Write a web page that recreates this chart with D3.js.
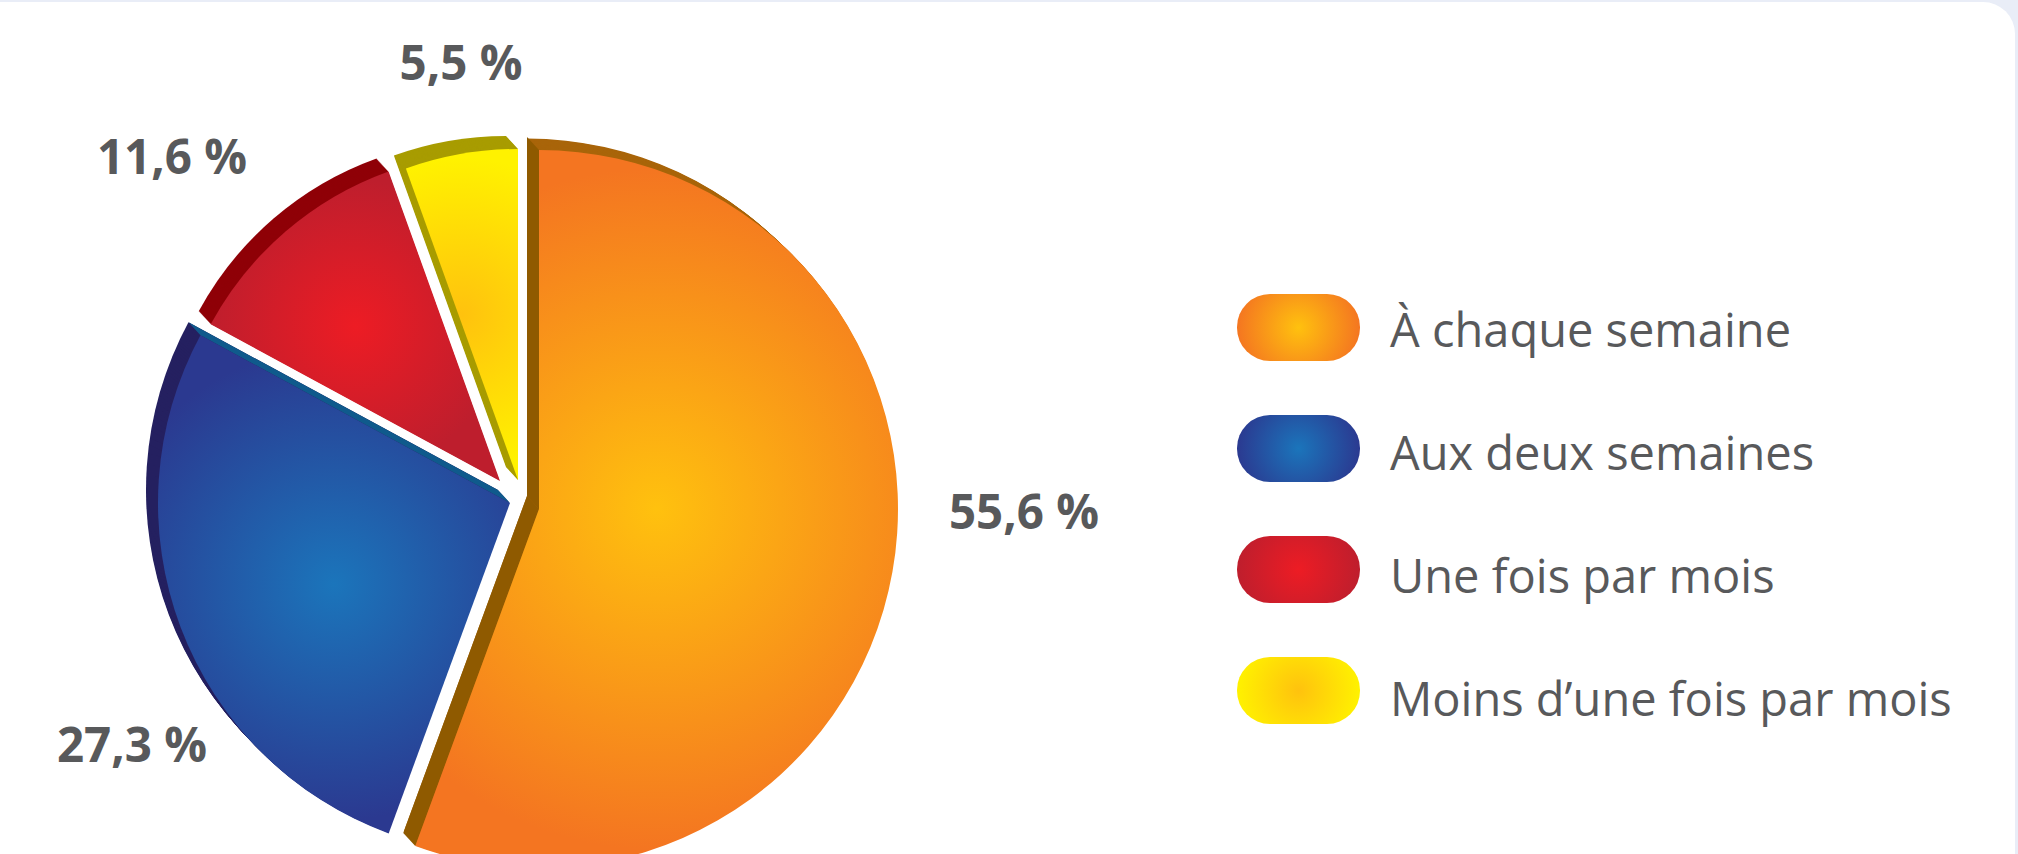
<!DOCTYPE html>
<html>
<head>
<meta charset="utf-8">
<script src="https://cdn.jsdelivr.net/npm/d3@7"></script>
<style>
  html, body { margin: 0; padding: 0; background: #e9edf7; overflow: hidden; }
  svg { display: block; }
  text { fill: #58595b; }
  .value { font-family: "Open Sans", sans-serif; font-weight: 700; font-size: 47.5px; text-anchor: middle; }
  .legend-label { font-family: "Open Sans", sans-serif; font-weight: 400; font-size: 47px; }
</style>
</head>
<body>
<svg id="chart" width="2018" height="854"></svg>
<script>
const categories = ['À chaque semaine', 'Aux deux semaines', 'Une fois par mois', 'Moins d’une fois par mois'];
const values = [55.6, 27.3, 11.6, 5.5];

// look of each slice, same order as categories
const innerColors = ['#ffc10e', '#1b75bb', '#ed1c24', '#ffc20e'];
const outerColors = ['#f47521', '#2b3990', '#be1e2d', '#fff200'];
const arcSideColors = ['#a9650a', '#252060', '#8f0007', '#a89c00'];
const startSideColors = ['#8f5a00', null, null, null];
const endSideColors = ['#8f5a00', '#0f5a8c', null, '#a89c00'];

// slices are pulled apart by hand
const centers = [[539, 509], [510, 503], [500, 481], [518, 480]];
const radii = [359, 352, 329, 331];
const sideInset = [1.5, 0, 0, 0];
const labelPos = [[1024, 529], [132, 762], [172, 174], [461, 80]];

const width = 2018;
const height = 854;
const depth = [-12, -13];
const gradientScale = 0.95;
const legendX = 1237;
const legendY = d3.scalePoint().domain(categories).range([294, 657]);
const legendTextY = d3.scalePoint().domain(categories).range([347, 716]);

const svg = d3.select('#chart');
const defs = svg.append('defs');

// white card, only its top right corner is on screen
svg.append('rect')
  .attr('x', -60)
  .attr('y', 2)
  .attr('width', 2015 + 60)
  .attr('height', height + 60)
  .attr('rx', 32)
  .attr('fill', '#ffffff');

const pie = d3.pie().sort(null)(values);
const arc = d3.arc().innerRadius(0);
const edgeLine = d3.line();

const slices = svg.selectAll('g.slice')
  .data(pie)
  .enter()
  .append('g')
  .attr('class', 'slice')
  .attr('transform', (d, i) => 'translate(' + centers[i] + ')');

function sector(d, r) {
  return arc({ startAngle: d.startAngle, endAngle: d.endAngle, outerRadius: r });
}

function sideFace(angle, r) {
  const p = d3.pointRadial(angle, r);
  return edgeLine([[0, 0], p, [p[0] + depth[0], p[1] + depth[1]], depth]);
}

slices.each(function (d, i) {
  const g = d3.select(this);

  // extrusion: stacked copies going back up-left
  d3.range(13, 0, -1).forEach((step) => {
    g.append('path')
      .attr('d', sector(d, radii[i] - (sideInset[i] * step) / 13))
      .attr('fill', arcSideColors[i])
      .attr('transform', 'translate(' + (depth[0] * step) / 13 + ',' + (depth[1] * step) / 13 + ')');
  });

  if (startSideColors[i]) g.append('path').attr('d', sideFace(d.startAngle, radii[i])).attr('fill', startSideColors[i]);
  if (endSideColors[i]) g.append('path').attr('d', sideFace(d.endAngle, radii[i])).attr('fill', endSideColors[i]);

  const front = g.append('path').attr('d', sector(d, radii[i]));
  const box = front.node().getBBox();

  const grad = defs.append('radialGradient')
    .attr('id', 'slice-grad-' + i)
    .attr('gradientUnits', 'userSpaceOnUse')
    .attr('cx', box.x + box.width / 2)
    .attr('cy', box.y + box.height / 2)
    .attr('r', (Math.max(box.width, box.height) / 2) * gradientScale);
  grad.append('stop').attr('offset', 0).attr('stop-color', innerColors[i]);
  grad.append('stop').attr('offset', 1).attr('stop-color', outerColors[i]);
  front.attr('fill', 'url(#slice-grad-' + i + ')');
});

svg.selectAll('text.value')
  .data(values)
  .enter()
  .append('text')
  .attr('class', 'value')
  .attr('x', (d, i) => labelPos[i][0])
  .attr('y', (d, i) => labelPos[i][1])
  .text((d) => d.toFixed(1).replace('.', ',') + ' %');

// legend
const legendGrad = defs.selectAll('radialGradient.legend')
  .data(categories)
  .enter()
  .append('radialGradient')
  .attr('class', 'legend')
  .attr('id', (d, i) => 'legend-grad-' + i)
  .attr('gradientUnits', 'userSpaceOnUse')
  .attr('cx', 61.5)
  .attr('cy', 33.5)
  .attr('r', 62);
legendGrad.append('stop').attr('offset', 0).attr('stop-color', (d, i) => innerColors[i]);
legendGrad.append('stop').attr('offset', 1).attr('stop-color', (d, i) => outerColors[i]);

const legend = svg.selectAll('g.legend')
  .data(categories)
  .enter()
  .append('g')
  .attr('class', 'legend')
  .attr('transform', (d) => 'translate(' + legendX + ',' + legendY(d) + ')');

legend.append('rect')
  .attr('width', 123)
  .attr('height', 67)
  .attr('rx', 33)
  .attr('fill', (d, i) => 'url(#legend-grad-' + i + ')');

legend.append('text')
  .attr('class', 'legend-label')
  .attr('x', 153)
  .attr('y', (d) => legendTextY(d) - legendY(d))
  .text((d) => d);
</script>
</body>
</html>
